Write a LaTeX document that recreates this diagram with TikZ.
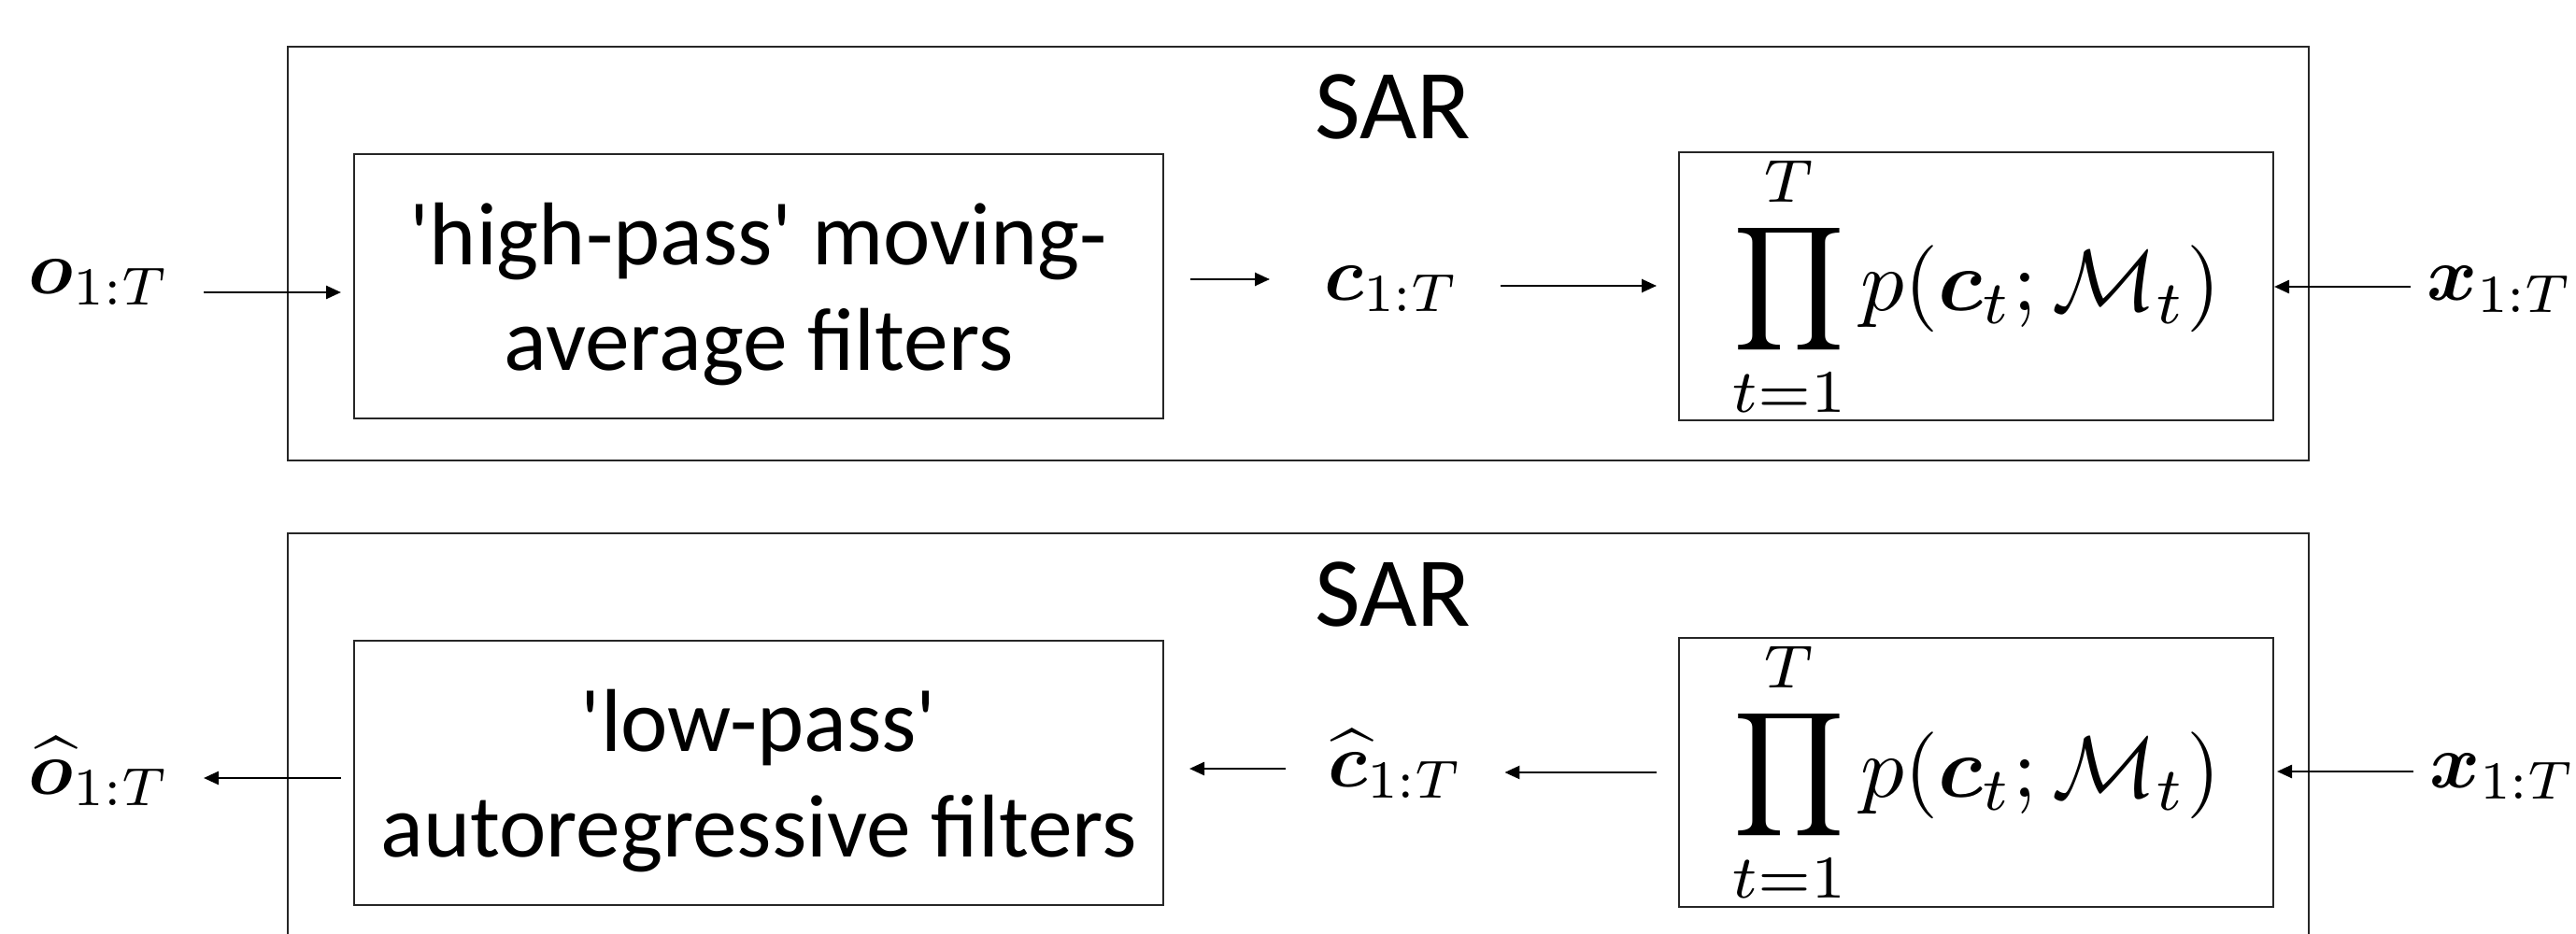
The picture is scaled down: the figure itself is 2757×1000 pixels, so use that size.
\documentclass[tikz,border=0pt]{standalone}
\usepackage{amsmath,amssymb,bm}
\usepackage{graphicx}
\usepackage{fontspec}
\newfontfamily\carl{Carlito}
\usetikzlibrary{arrows.meta}
\newcommand\mthvar[1]{\scalebox{8.2}{$#1$}}
\newcommand\mthprod[1]{\scalebox{9.3}{$#1$}}
\begin{document}
\begin{tikzpicture}[x=1pt,y=-1pt,
  outerbox/.style={draw=black!85, line width=2pt, inner sep=0pt, minimum width=2163pt, minimum height=443pt},
  blk/.style={draw=black!85, line width=2pt, inner sep=0pt, minimum width=866pt, minimum height=283pt, align=center, font=\carl\fontsize{95.5}{113}\selectfont},
  prodbox/.style={draw=black!85, line width=2pt, inner sep=0pt, minimum width=636pt, minimum height=283pt},
  var/.style={inner sep=0pt},
  ttl/.style={inner sep=0pt, anchor=base, font=\carl\fontsize{106}{120}\selectfont},
  arr/.style={-{Triangle[length=16pt,width=14pt]}, line width=2.5pt}]
\clip (0,0) rectangle (2757,1000);
\fill[white] (0,0) rectangle (2757,1000);

% ---------- top panel ----------
\node[outerbox] (sar1) at (1389.5,271.5) {};
\node[ttl] (t1) at (1491,149) {SAR};
\node[blk] (hp) at (812,306.5) {\rule{0pt}{84pt}\textquotesingle high-pass\textquotesingle{} moving-\\average filters};
\node[prodbox] (pr) at (2115,306.5) {\mthprod{\displaystyle\prod_{t=1}^{T} p(\boldsymbol{c}_t;\mathcal{M}_t)}};
\node[var, anchor=base east] (o) at (182,314) {\mthvar{\boldsymbol{o}_{1:T}}};
\node[var, anchor=base west] (c) at (1417,321) {\mthvar{\boldsymbol{c}_{1:T}}};
\node[var, anchor=base west] (x) at (2597,322) {\mthvar{\boldsymbol{x}_{1:T}}};

\coordinate (ra) at (0,313);
\coordinate (rb) at (0,299);
\coordinate (rc) at (0,306);
\coordinate (rd) at (0,307);
\draw[arr, shorten <=36pt, shorten >=13pt] (o.east |- ra) -- (hp.west |- ra);
\draw[arr, shorten <=28pt, shorten >=58pt] (hp.east |- rb) -- (c.west |- rb);
\draw[arr, shorten <=44pt, shorten >=23pt] (c.east |- rc) -- (pr.west |- rc);
\draw[arr, shorten <=17pt] (x.west |- rd) -- (pr.east |- rd);

% ---------- bottom panel ----------
\node[outerbox] (sar2) at (1389.5,792.5) {};
\node[ttl] (t2) at (1491,670) {SAR};
\node[blk] (hp2) at (812,827) {\rule{0pt}{84pt}\textquotesingle low-pass\textquotesingle\\autoregressive filters};
\node[prodbox] (pr2) at (2115,827) {\mthprod{\displaystyle\prod_{t=1}^{T} p(\boldsymbol{c}_t;\mathcal{M}_t)}};
\node[var, anchor=base east] (oh) at (182,850) {\mthvar{\widehat{\boldsymbol{o}}_{1:T}}};
\node[var, anchor=base west] (ch) at (1421,842) {\mthvar{\widehat{\boldsymbol{c}}_{1:T}}};
\node[var, anchor=base west] (x2) at (2600,843) {\mthvar{\boldsymbol{x}_{1:T}}};

\coordinate (re) at (0,833);
\coordinate (rf) at (0,823);
\coordinate (rg) at (0,827);
\coordinate (rh) at (0,826);
\draw[arr, shorten <=13pt, shorten >=36pt] (hp2.west |- re) -- (oh.east |- re);
\draw[arr, shorten <=45pt, shorten >=27pt] (ch.west |- rf) -- (hp2.east |- rf);
\draw[arr, shorten <=23pt, shorten >=44pt] (pr2.west |- rg) -- (ch.east |- rg);
\draw[arr, shorten <=17pt, shorten >=3pt] (x2.west |- rh) -- (pr2.east |- rh);
\end{tikzpicture}
\end{document}
